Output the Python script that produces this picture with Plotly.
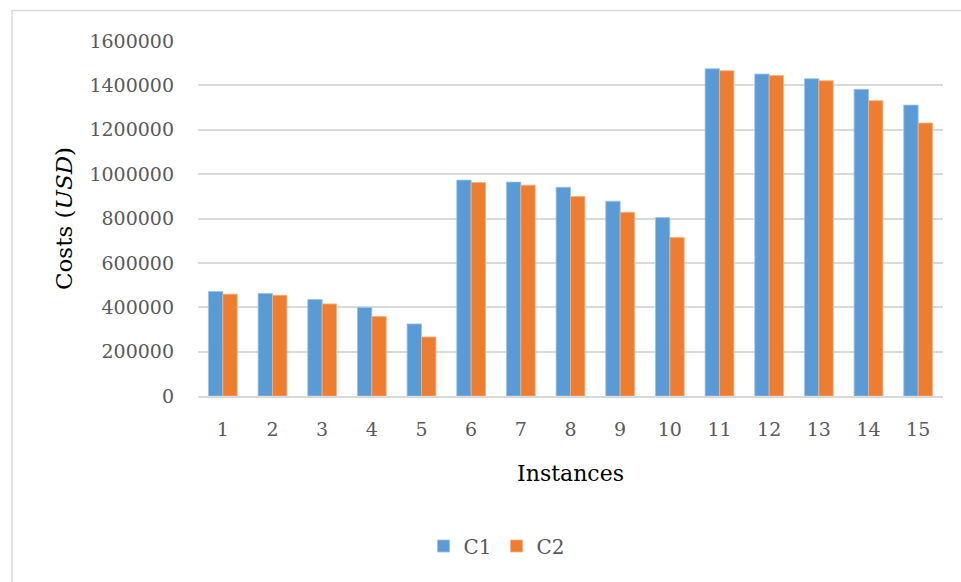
import plotly.graph_objects as go

# Instance labels and the cost of each configuration (USD)
instances = [str(i) for i in range(1, 16)]
c1_costs = [471000, 462000, 435000, 399000, 325000,
            973000, 964000, 941000, 878000, 804000,
            1475000, 1451000, 1430000, 1382000, 1311000]
c2_costs = [459000, 454000, 415000, 358000, 266000,
            962000, 950000, 899000, 828000, 714000,
            1466000, 1444000, 1421000, 1331000, 1230000]
y_ticks = [0, 200000, 400000, 600000, 800000, 1000000, 1200000, 1400000, 1600000]

FONT = "Palatino Linotype, Book Antiqua, DejaVu Serif, serif"
GRID = "#d9d9d9"
TEXT = "#595959"

W, H = 961, 582
L, R, T, B = 198, 18, 41, 186
pw, ph = W - L - R, H - T - B

fig = go.Figure()
fig.add_trace(go.Bar(name="C1", x=instances, y=c1_costs,
                     marker=dict(color="#5b9bd5", line=dict(color="#9dc3e6", width=0.8))))
fig.add_trace(go.Bar(name="C2", x=instances, y=c2_costs,
                     marker=dict(color="#ed7d31", line=dict(color="#f4b183", width=0.8))))

# outer chart border
fig.add_shape(type="rect", xref="paper", yref="paper",
              x0=(12 - L) / pw, x1=(W + 20 - L) / pw,
              y0=(H - B - 10.5) / ph, y1=(H - B - (H + 20)) / ph,
              line=dict(color=GRID, width=1.5), fillcolor="rgba(0,0,0,0)", layer="below")

fig.update_layout(
    width=W, height=H,
    margin=dict(l=L, r=R, t=T, b=B, autoexpand=False),
    paper_bgcolor="white", plot_bgcolor="white",
    barmode="group", bargap=0.42, bargroupgap=0,
    font=dict(family=FONT, color=TEXT, size=18),
    showlegend=True,
    legend=dict(orientation="h", x=(497 - L) / pw, xanchor="center",
                y=(H - B - 546) / ph, yanchor="middle",
                font=dict(family=FONT, size=20, color=TEXT),
                itemwidth=30, traceorder="normal"),
    xaxis=dict(
        showgrid=False, showline=True, linecolor=GRID, linewidth=1.5,
        ticks="", ticklabelstandoff=15,
        tickfont=dict(family=FONT, size=19, color=TEXT),
        title=dict(text="Instances", standoff=27,
                   font=dict(family=FONT, size=22, color="black")),
    ),
    yaxis=dict(
        range=[0, 1600000], tickvals=y_ticks, tickformat="d",
        showgrid=True, gridcolor=GRID, gridwidth=1.5,
        zeroline=False, showline=False, ticks="",
        ticklabelstandoff=23,
        tickfont=dict(family=FONT, size=19, color=TEXT),
        title=dict(text="Costs (<i>USD</i>)", standoff=10,
                   font=dict(family=FONT, size=23, color="black")),
    ),
)

fig.write_html("out.html")
